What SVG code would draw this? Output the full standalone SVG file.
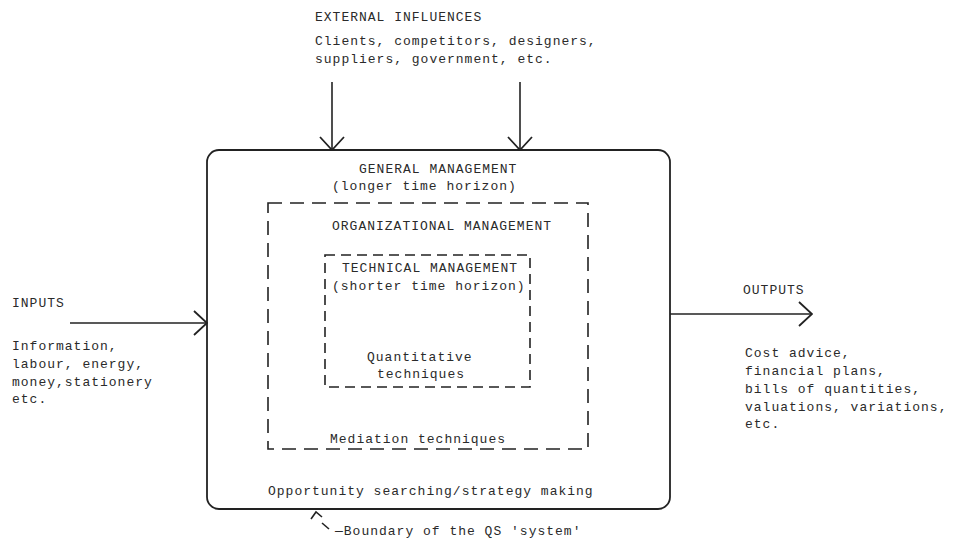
<svg xmlns="http://www.w3.org/2000/svg" width="968" height="539" viewBox="0 0 968 539">
  <style>
    text { font-family: "Liberation Mono", "DejaVu Sans Mono", monospace; font-size: 13px; letter-spacing: 1px; fill: #2a2a2a; }
    .solid { fill: none; stroke: #222; stroke-width: 1.8; }
    .org { fill: none; stroke: #222; stroke-width: 1.6; stroke-dasharray: 14 8; }
    .tech { fill: none; stroke: #222; stroke-width: 1.6; stroke-dasharray: 10 6; }
    .conn { fill: none; stroke: #222; stroke-width: 1.6; }
  </style>
  <defs>
    <marker id="chev" markerUnits="userSpaceOnUse" viewBox="0 0 15 28" refX="14" refY="14" markerWidth="15" markerHeight="28" orient="auto">
      <path d="M1,2 L14,14 L1,26" fill="none" stroke="#222" stroke-width="1.8"/>
    </marker>
  </defs>
  <rect width="968" height="539" fill="#ffffff"/>

  <g id="external-influences">
    <text x="315" y="21">EXTERNAL INFLUENCES</text>
    <text x="315" y="45">Clients, competitors, designers,</text>
    <text x="315" y="63">suppliers, government, etc.</text>
  </g>

  <g id="qs-system">
    <rect class="solid" x="207" y="150" width="463" height="359" rx="12" ry="12"/>
    <text x="359" y="173">GENERAL MANAGEMENT</text>
    <text x="332" y="190">(longer time horizon)</text>
    <text x="268" y="495">Opportunity searching/strategy making</text>
  </g>

  <g id="organizational-management">
    <rect class="org" x="268" y="203" width="320" height="246"/>
    <text x="332" y="230">ORGANIZATIONAL MANAGEMENT</text>
    <text x="330" y="443">Mediation techniques</text>
  </g>

  <g id="technical-management">
    <rect class="tech" x="325" y="255" width="205" height="132"/>
    <text x="342" y="272">TECHNICAL MANAGEMENT</text>
    <text x="332" y="290">(shorter time horizon)</text>
    <text x="367" y="361">Quantitative</text>
    <text x="377" y="378">techniques</text>
  </g>

  <g id="inputs">
    <text x="12" y="307">INPUTS</text>
    <text x="12" y="350">Information,</text>
    <text x="12" y="368">labour, energy,</text>
    <text x="12" y="386">money,stationery</text>
    <text x="12" y="403">etc.</text>
  </g>

  <g id="outputs">
    <text x="743" y="294">OUTPUTS</text>
    <text x="745" y="357">Cost advice,</text>
    <text x="745" y="375">financial plans,</text>
    <text x="745" y="393">bills of quantities,</text>
    <text x="745" y="411">valuations, variations,</text>
    <text x="745" y="428">etc.</text>
  </g>

  <g id="boundary-label">
    <path class="conn" d="M311,519 L316,512 L322,517"/>
    <line class="conn" x1="322" y1="523" x2="329" y2="529"/>
    <text x="335" y="535">—Boundary of the QS 'system'</text>
  </g>

  <g id="connectors">
    <line class="conn" x1="332" y1="82" x2="332" y2="150" marker-end="url(#chev)"/>
    <line class="conn" x1="520" y1="82" x2="520" y2="150" marker-end="url(#chev)"/>
    <line class="conn" x1="70" y1="323" x2="207" y2="323" marker-end="url(#chev)"/>
    <line class="conn" x1="670" y1="314" x2="812" y2="314" marker-end="url(#chev)"/>
  </g>
</svg>
